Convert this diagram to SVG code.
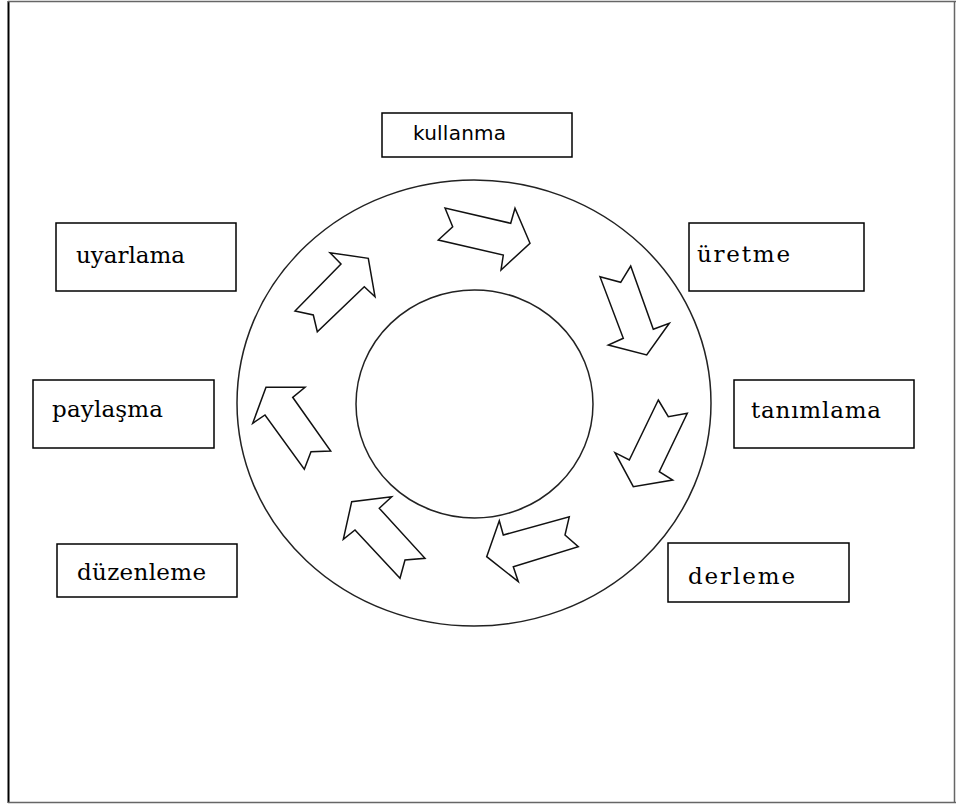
<svg xmlns="http://www.w3.org/2000/svg" width="956" height="804" viewBox="0 0 956 804">
  <style>
    .box rect { fill: #fff; stroke: #000; stroke-width: 1.5; }
    .serif { font-family: "DejaVu Serif", "Liberation Serif", serif; font-size: 23px; fill: #000; }
    .sans { font-family: "DejaVu Sans", "Liberation Sans", sans-serif; font-size: 20px; fill: #000; }
    .ring { fill: none; stroke: #222; stroke-width: 1.5; }
    .arrow { fill: #fff; stroke: #111; stroke-width: 1.5; stroke-linejoin: miter; }
  </style>
  <rect x="0" y="0" width="956" height="804" fill="#fff"/>
  <!-- page frame -->
  <line x1="8.5" y1="1" x2="8.5" y2="803" stroke="#000" stroke-width="2"/>
  <line x1="8" y1="1.5" x2="956" y2="1.5" stroke="#666" stroke-width="1.5"/>
  <line x1="8" y1="802.5" x2="956" y2="802.5" stroke="#666" stroke-width="1.5"/>
  <line x1="954.5" y1="1" x2="954.5" y2="803" stroke="#666" stroke-width="1.5"/>

  <!-- rings -->
  <g id="cycle">
    <ellipse class="ring" cx="474" cy="403" rx="237" ry="223"/>
    <ellipse class="ring" cx="474.5" cy="404" rx="118.5" ry="114"/>
  </g>

  <!-- connectors: block arrows running clockwise round the ring -->
  <g id="connectors">
    <polygon class="arrow" points="445,208 452.7,226.7 438.3,240 503.3,255 501,270 530,243.3 515,208.3 510.7,223.3"/>
    <polygon class="arrow" points="600,276.7 620.7,282.3 630.7,266 653.3,329.3 669.3,323.3 646.7,355 608.3,345 623.3,338.3"/>
    <polygon class="arrow" points="658.3,400 668.3,416.7 687.3,413.3 659.3,471.7 672.7,480 633.3,486.7 615,452.7 629.3,460"/>
    <polygon class="arrow" points="569.3,516.7 565,535 578.3,546.7 513.3,566.7 518.3,581.7 486.7,556.7 499.3,520.7 503.3,535"/>
    <polygon class="arrow" points="400,578.3 405,560 425,558.3 379.3,508.3 391.7,496.7 351.7,501.7 343.3,539.3 355,530"/>
    <polygon class="arrow" points="304.3,469.3 311,451.7 330.7,451 292.7,397.3 305,387.3 266,387.3 252.7,423.3 265,415"/>
    <polygon class="arrow" points="295,311 313.3,315 317.3,331.7 364.3,286.7 375,296.7 368.3,258.3 330,252.7 341,264"/>
  </g>

  <g id="kullanma" class="box">
    <rect x="382" y="113" width="190" height="44"/>
    <text class="sans" x="413" y="140" textLength="93" lengthAdjust="spacing">kullanma</text>
  </g>
  <g id="uretme" class="box">
    <rect x="689" y="223" width="175" height="68"/>
    <text class="serif" x="697" y="262" textLength="93" lengthAdjust="spacing">üretme</text>
  </g>
  <g id="tanimlama" class="box">
    <rect x="734" y="380" width="180" height="68"/>
    <text class="serif" x="751" y="418" textLength="130" lengthAdjust="spacing">tanımlama</text>
  </g>
  <g id="derleme" class="box">
    <rect x="668" y="543" width="181" height="59"/>
    <text class="serif" x="688" y="584" textLength="107" lengthAdjust="spacing">derleme</text>
  </g>
  <g id="duzenleme" class="box">
    <rect x="57" y="544" width="180" height="53"/>
    <text class="serif" x="77" y="580" textLength="129" lengthAdjust="spacing">düzenleme</text>
  </g>
  <g id="paylasma" class="box">
    <rect x="33" y="380" width="181" height="68"/>
    <text class="serif" x="52" y="417" textLength="111" lengthAdjust="spacing">paylaşma</text>
  </g>
  <g id="uyarlama" class="box">
    <rect x="56" y="223" width="180" height="68"/>
    <text class="serif" x="76" y="263" textLength="109" lengthAdjust="spacing">uyarlama</text>
  </g>
</svg>
